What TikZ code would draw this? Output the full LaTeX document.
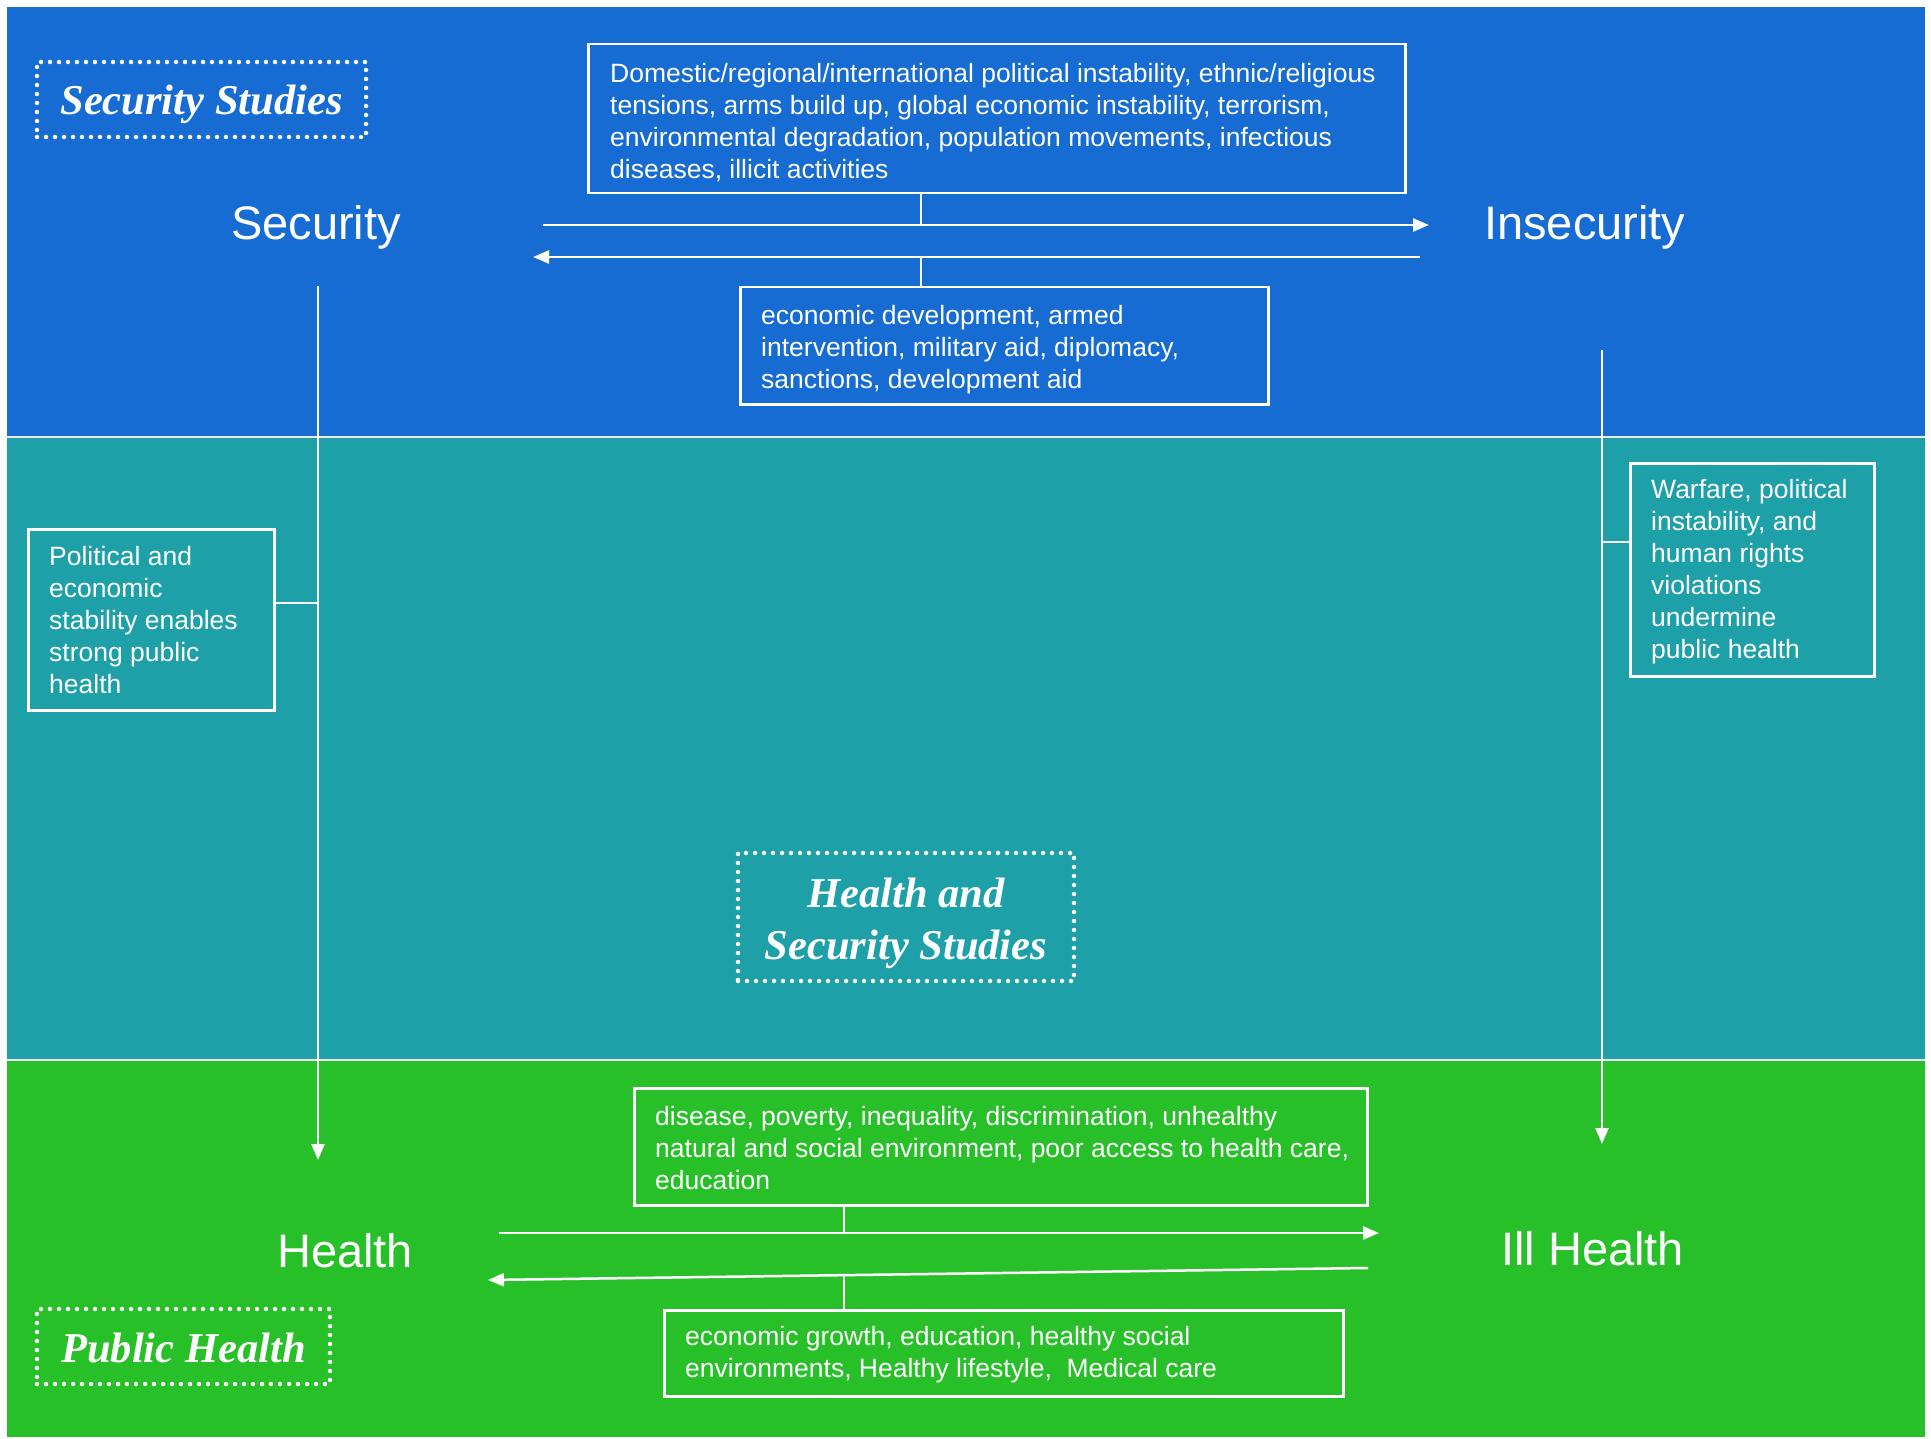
\documentclass[tikz,border=0pt]{standalone}
\usepackage{fontspec}
\setmainfont{Liberation Sans}
\newfontfamily\studiesfont{Liberation Serif}
\usetikzlibrary{arrows.meta}
\definecolor{bandblue}{RGB}{22,108,210}
\definecolor{bandteal}{RGB}{30,160,168}
\definecolor{bandgreen}{RGB}{40,192,40}
\begin{document}
\begin{tikzpicture}[x=1pt,y=-1pt,
  box/.style={draw=white, line width=2.5pt, anchor=north west, inner sep=0pt},
  small/.style={font=\fontsize{26.5}{32}\selectfont, text=white, align=left, inner sep=0pt, anchor=north west},
  big/.style={font=\fontsize{47}{56}\selectfont, text=white, inner sep=0pt, anchor=base west},
  studybox/.style={draw=white, line width=4.5pt, dash pattern=on 0pt off 9pt, line cap=round,
     text=white, inner sep=0pt,
     font=\studiesfont\bfseries\itshape\fontsize{42.5}{52}\selectfont},
  link/.style={draw=white, line width=2.5pt},
  arr/.style={link, -{Triangle[length=16pt,width=13pt]}},
  sep/.style={draw=white!85!gray, line width=2pt}
]
\fill[white] (0,0) rectangle (1931,1439);
\useasboundingbox (0,0) rectangle (1931,1439);
\fill[bandblue]  (7,7)    rectangle (1925,437);
\fill[bandteal]  (7,437)  rectangle (1925,1060);
\fill[bandgreen] (7,1060) rectangle (1925,1437);
\draw[sep] (7,437) -- (1925,437);
\draw[sep] (7,1060) -- (1925,1060);

% study labels
\node[studybox, minimum width=329, minimum height=75] (secstud) at (201.5,99.5) {\raisebox{-5pt}[\height][\depth]{Security Studies}};
\node[studybox, minimum width=336, minimum height=128] (hsstud) at (906,917) {\raisebox{-6pt}[\height][\depth]{\begin{tabular}{@{}c@{}}Health and\\Security Studies\end{tabular}}};
\node[studybox, minimum width=293, minimum height=75] (phstud) at (183.5,1346.5) {\raisebox{-1pt}[\height][\depth]{Public Health}};

% main terms
\node[big] (security) at (231,240) {Security};
\node[big] (insecurity) at (1484,240) {Insecurity};
\node[big] (health) at (277,1267) {Health};
\node[big] (illhealth) at (1501,1265) {Ill Health};

% top boxes
\node[box, minimum width=817, minimum height=149] (cause) at (587,43) {};
\node[small] (causetext) at (610,63) {Domestic/regional/international political instability, ethnic/religious\\
tensions, arms build up, global economic instability, terrorism,\\
environmental degradation, population movements, infectious\\
diseases, illicit activities};
\node[box, minimum width=528, minimum height=117] (remedy) at (739,286) {};
\node[small] (remedytext) at (761,305) {economic development, armed\\
intervention, military aid, diplomacy,\\
sanctions, development aid};

% side boxes
\node[box, minimum width=246, minimum height=181] (polbox) at (27,528) {};
\node[small] (poltext) at (49,546) {Political and\\economic\\stability enables\\strong public\\health};
\node[box, minimum width=244, minimum height=213] (warbox) at (1629,462) {};
\node[small] (wartext) at (1651,479) {Warfare, political\\instability, and\\human rights\\violations\\undermine\\public health};

% bottom boxes
\node[box, minimum width=733, minimum height=117] (disease) at (633,1087) {};
\node[small] (diseasetext) at (655,1106) {disease, poverty, inequality, discrimination, unhealthy\\
natural and social environment, poor access to health care,\\
education};
\node[box, minimum width=679, minimum height=86] (growth) at (663,1309) {};
\node[small] (growthtext) at (685,1326) {economic growth, education, healthy social\\
environments, Healthy lifestyle,\ \ Medical care};

% security arrows
\coordinate (s2iA) at (543,225);
\coordinate (s2iB) at (1429,225);
\coordinate (i2sA) at (1420,257);
\coordinate (i2sB) at (533,257);
\draw[arr] (s2iA) -- (s2iB);
\draw[arr] (i2sA) -- (i2sB);
\coordinate (topJ) at (921,225);
\coordinate (botJ) at (921,257);
\draw[link] (topJ |- cause.south) -- (topJ);
\draw[link] (botJ) -- (botJ |- remedy.north);

% health arrows
\coordinate (h2iA) at (499,1233);
\coordinate (h2iB) at (1379,1233);
\coordinate (i2hA) at (1368,1268);
\coordinate (i2hB) at (488,1280);
\draw[arr] (h2iA) -- (h2iB);
\draw[arr] (i2hA) -- (i2hB);
\coordinate (htopJ) at (844,1233);
\coordinate (hbotJ) at (844,1275);
\draw[link] (htopJ |- disease.south) -- (htopJ);
\draw[link] (hbotJ) -- (hbotJ |- growth.north);

% vertical arrows
\coordinate (secA) at (318,286);
\coordinate (secB) at (318,1160);
\draw[arr] (secA) -- (secB);
\coordinate (polJ) at (318,603);
\draw[link] (polJ -| polbox.east) -- (polJ);

\coordinate (insA) at (1602,350);
\coordinate (insB) at (1602,1144);
\draw[arr] (insA) -- (insB);
\coordinate (warJ) at (1602,542);
\draw[link] (warJ) -- (warJ -| warbox.west);
\end{tikzpicture}
\end{document}
